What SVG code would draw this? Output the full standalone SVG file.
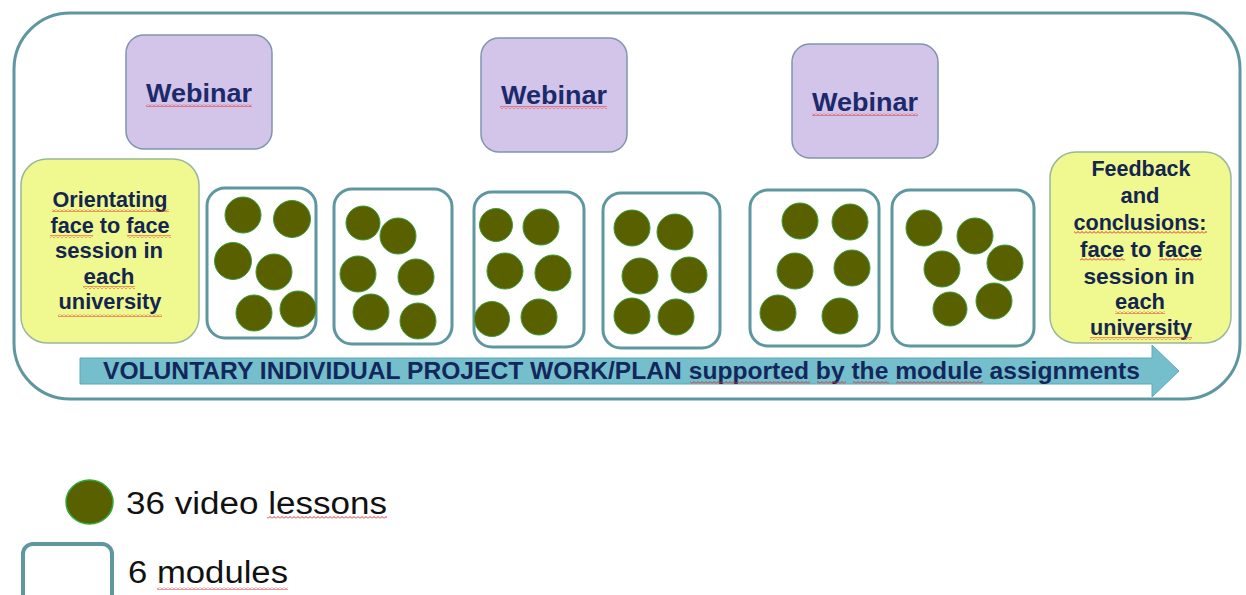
<svg xmlns="http://www.w3.org/2000/svg" width="1246" height="595" viewBox="0 0 1246 595">
<style>
.frame{fill:#fff;stroke:#5e979f;stroke-width:3}
.web{fill:#d3c4e9;stroke:#7f95ad;stroke-width:1.5}
.yel{fill:#eff98f;stroke:#9bb79b;stroke-width:1.5}
.mod{fill:#fff;stroke:#5e979f;stroke-width:3}
.dot{fill:#596000;stroke:#3a9c3a;stroke-width:1}
.wt{font-family:"Liberation Sans",Arial,sans-serif;font-weight:bold;font-size:26px;fill:#1b2a6b;text-anchor:middle}
.yt{font-family:"Liberation Sans",Arial,sans-serif;font-weight:bold;font-size:22px;fill:#14254f;text-anchor:middle}
.at{font-family:"Liberation Sans",Arial,sans-serif;font-weight:bold;font-size:24px;fill:#14275c}
.lt{font-family:"Liberation Sans",Arial,sans-serif;font-size:31px;fill:#111}
.sq{fill:url(#wavy)}
</style>
<defs>
<pattern id="wavy" patternUnits="userSpaceOnUse" width="4" height="3">
<polyline points="0,2.5 2,0.5 4,2.5" fill="none" stroke="#e03030" stroke-width="1"/>
</pattern>
</defs>
<rect id="frame" class="frame" x="14" y="13" width="1226" height="386" rx="56" ry="56"/>

<g id="webinar1">
<rect class="web" x="126" y="35" width="146" height="114" rx="18"/>
<text class="wt" x="199" y="102" textLength="106" lengthAdjust="spacingAndGlyphs">Webinar</text>
<rect class="sq" x="146" y="104" width="106" height="3"/>
</g>
<g id="webinar2">
<rect class="web" x="481" y="38" width="146" height="114" rx="18"/>
<text class="wt" x="554" y="104" textLength="106" lengthAdjust="spacingAndGlyphs">Webinar</text>
<rect class="sq" x="500" y="106" width="107" height="3"/>
</g>
<g id="webinar3">
<rect class="web" x="792" y="44" width="146" height="114" rx="18"/>
<text class="wt" x="865" y="111" textLength="106" lengthAdjust="spacingAndGlyphs">Webinar</text>
<rect class="sq" x="812" y="113" width="106" height="3"/>
</g>

<g id="orientating">
<rect class="yel" x="21" y="159" width="178" height="184" rx="26"/>
<text class="yt" x="110" y="207" textLength="115" lengthAdjust="spacingAndGlyphs">Orientating</text>
<text class="yt" x="110" y="233" textLength="119" lengthAdjust="spacingAndGlyphs">face to face</text>
<text class="yt" x="109" y="258" textLength="108" lengthAdjust="spacingAndGlyphs">session in</text>
<text class="yt" x="109" y="284" textLength="51" lengthAdjust="spacingAndGlyphs">each</text>
<text class="yt" x="110" y="309" textLength="103" lengthAdjust="spacingAndGlyphs">university</text>
<rect class="sq" x="52" y="209" width="117" height="3"/>
<rect class="sq" x="50" y="235" width="43" height="3"/>
<rect class="sq" x="127" y="235" width="44" height="3"/>
<rect class="sq" x="83" y="286" width="52" height="3"/>
<rect class="sq" x="58" y="314" width="104" height="3"/>
</g>

<g id="feedback">
<rect class="yel" x="1050" y="152" width="181" height="191" rx="26"/>
<text class="yt" x="1141" y="176" textLength="99" lengthAdjust="spacingAndGlyphs">Feedback</text>
<text class="yt" x="1140" y="203" textLength="39" lengthAdjust="spacingAndGlyphs">and</text>
<text class="yt" x="1140" y="230" textLength="133" lengthAdjust="spacingAndGlyphs">conclusions:</text>
<text class="yt" x="1141" y="257" textLength="122" lengthAdjust="spacingAndGlyphs">face to face</text>
<text class="yt" x="1139" y="284" textLength="111" lengthAdjust="spacingAndGlyphs">session in</text>
<text class="yt" x="1140" y="309" textLength="50" lengthAdjust="spacingAndGlyphs">each</text>
<text class="yt" x="1141" y="335" textLength="102" lengthAdjust="spacingAndGlyphs">university</text>
<rect class="sq" x="1074" y="231" width="133" height="3"/>
<rect class="sq" x="1080" y="258" width="45" height="3"/>
<rect class="sq" x="1159" y="258" width="43" height="3"/>
<rect class="sq" x="1115" y="311" width="50" height="3"/>
<rect class="sq" x="1090" y="337" width="102" height="3"/>
</g>

<g id="module1">
<rect class="mod" x="207" y="188" width="109" height="150" rx="18"/>
<circle class="dot" cx="243" cy="215" r="18"/>
<circle class="dot" cx="292" cy="219" r="18.5"/>
<circle class="dot" cx="233" cy="261" r="18.5"/>
<circle class="dot" cx="274" cy="272" r="18"/>
<circle class="dot" cx="254" cy="313" r="18"/>
<circle class="dot" cx="298" cy="309" r="18"/>
</g>
<g id="module2">
<rect class="mod" x="334" y="189" width="118" height="155" rx="18"/>
<circle class="dot" cx="363" cy="223" r="17"/>
<circle class="dot" cx="398" cy="236" r="18"/>
<circle class="dot" cx="358" cy="274" r="18"/>
<circle class="dot" cx="416" cy="277" r="18"/>
<circle class="dot" cx="371" cy="312" r="18"/>
<circle class="dot" cx="418" cy="321" r="18"/>
</g>
<g id="module3">
<rect class="mod" x="474" y="192" width="110" height="155" rx="18"/>
<circle class="dot" cx="496" cy="225" r="16.5"/>
<circle class="dot" cx="541" cy="227" r="18"/>
<circle class="dot" cx="505" cy="271" r="18"/>
<circle class="dot" cx="553" cy="273" r="18"/>
<circle class="dot" cx="492" cy="319" r="17.5"/>
<circle class="dot" cx="539" cy="317" r="18"/>
</g>
<g id="module4">
<rect class="mod" x="603" y="193" width="117" height="155" rx="18"/>
<circle class="dot" cx="632" cy="228" r="18"/>
<circle class="dot" cx="675" cy="232" r="18"/>
<circle class="dot" cx="640" cy="276" r="18"/>
<circle class="dot" cx="689" cy="275" r="18"/>
<circle class="dot" cx="632" cy="316" r="18"/>
<circle class="dot" cx="676" cy="317" r="18"/>
</g>
<g id="module5">
<rect class="mod" x="750" y="190" width="129" height="156" rx="18"/>
<circle class="dot" cx="800" cy="221" r="18"/>
<circle class="dot" cx="850" cy="222" r="18"/>
<circle class="dot" cx="795" cy="271" r="18"/>
<circle class="dot" cx="852" cy="268" r="18"/>
<circle class="dot" cx="778" cy="313" r="18"/>
<circle class="dot" cx="840" cy="316" r="18"/>
</g>
<g id="module6">
<rect class="mod" x="892" y="190" width="142" height="156" rx="18"/>
<circle class="dot" cx="924" cy="228" r="18"/>
<circle class="dot" cx="975" cy="236" r="18"/>
<circle class="dot" cx="942" cy="269" r="18"/>
<circle class="dot" cx="1005" cy="263" r="18"/>
<circle class="dot" cx="950" cy="309" r="17"/>
<circle class="dot" cx="994" cy="301" r="18"/>
</g>

<g id="connectors">
<polygon points="80,358 1152,358 1152,345 1179,371 1152,397 1152,384 80,384" fill="#74bfcb" stroke="#5ea9b6" stroke-width="1"/>
<text class="at" x="103" y="379" textLength="1037" lengthAdjust="spacingAndGlyphs">VOLUNTARY INDIVIDUAL PROJECT WORK/PLAN supported by the module assignments</text>
<rect class="sq" x="690" y="381" width="120" height="3"/>
<rect class="sq" x="817" y="381" width="29" height="3"/>
<rect class="sq" x="853" y="381" width="36" height="3"/>
<rect class="sq" x="896" y="381" width="87" height="3"/>
</g>

<g id="legend-lesson">
<ellipse cx="89.5" cy="502" rx="23.5" ry="22" fill="#596000" stroke="#2fa83a" stroke-width="1.5"/>
<text class="lt" x="126" y="514" textLength="261" lengthAdjust="spacingAndGlyphs">36 video lessons</text>
<rect class="sq" x="267" y="516" width="120" height="3"/>
</g>
<g id="legend-module">
<rect x="23" y="544" width="89" height="60" rx="10" fill="#fff" stroke="#5e979f" stroke-width="4"/>
<text class="lt" x="128" y="583" textLength="160" lengthAdjust="spacingAndGlyphs">6 modules</text>
<rect class="sq" x="157" y="587" width="131" height="3"/>
</g>
</svg>
